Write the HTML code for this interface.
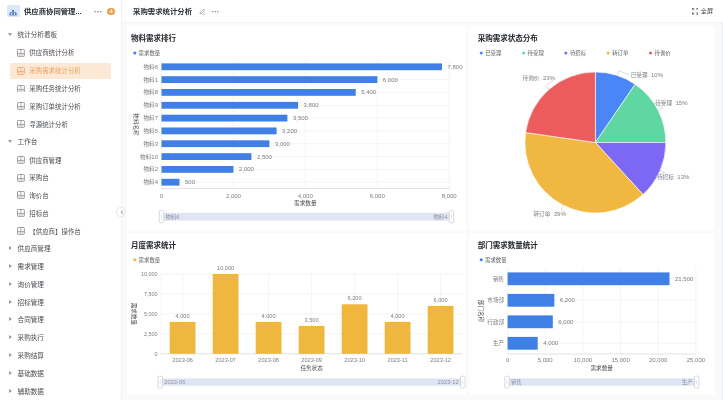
<!DOCTYPE html>
<html lang="zh-CN">
<head>
<meta charset="utf-8">
<title>采购需求统计分析</title>
<style>
*{box-sizing:border-box;margin:0;padding:0}
html,body{width:723px;height:400px;overflow:hidden;background:#fff;font-family:"Liberation Sans","Noto Sans CJK SC",sans-serif;color:#333}
#app{position:absolute;left:0;top:0;width:723px;height:400px;overflow:hidden;filter:blur(.55px)}
.sidebar{position:absolute;left:0;top:0;width:122px;height:400px;background:#fff;border-right:1px solid #f0f1f4}
.brand{position:absolute;left:0;top:0;width:121px;height:23px}
.brand .logo{position:absolute;left:7.1px;top:5.4px;width:12.7px;height:11.6px;border-radius:1.6px;background:#dde8fb}
.brand .name{position:absolute;left:24px;top:3.2px;line-height:17px;font-size:7.35px;font-weight:700;color:#2b2f36;white-space:nowrap}
.brand .more{position:absolute;left:93.8px;top:3.9px;line-height:17px;font-size:8.5px;font-weight:700;color:#777;letter-spacing:0}
.brand .add{position:absolute;left:107.2px;top:7.6px;width:7.6px;height:7.6px;border-radius:50%;background:#e9a04f}
.brand .add:before,.brand .add:after{content:"";position:absolute;background:#fbe4c8;left:1.9px;top:3.4px;width:3.8px;height:.8px}
.brand .add:after{left:3.4px;top:1.9px;width:.8px;height:3.8px}
.nav{position:absolute;height:18px;line-height:18px;font-size:6.45px;color:#4a4d52;white-space:nowrap}
.nav.grp{left:0;width:121px}
.nav.grp .gl{position:absolute;left:17.6px;font-size:6.6px}
.arr{position:absolute;width:0;height:0}
.arr.dn{left:8.2px;top:7.1px;border-left:2.3px solid transparent;border-right:2.3px solid transparent;border-top:3px solid #9a9da3}
.arr.rt{left:9px;top:6.2px;border-top:2.3px solid transparent;border-bottom:2.3px solid transparent;border-left:3px solid #9a9da3}
.nav.itm{left:10.3px;width:100.3px;height:16.3px;line-height:16.3px;margin-top:.8px;border-radius:1.5px}
.nav.itm .pi{position:absolute;left:7px;top:3.7px;width:7.9px;height:7.9px}
.nav.itm .il{position:absolute;left:19px;top:.4px}
.nav.itm.sel{background:#fce8d5;color:#e9a566}
.collapse{position:absolute;left:116.2px;top:207.3px;width:9.6px;height:9.6px;border-radius:50%;background:#fff;border:.6px solid #e3e4e8;z-index:5}
.collapse:before{content:"";position:absolute;left:3.6px;top:2.9px;width:2.4px;height:2.4px;border-left:.6px solid #aaa;border-bottom:.6px solid #aaa;transform:rotate(45deg)}
.main{position:absolute;left:122px;top:0;width:601px;height:400px;background:#f9fafc}
.main .sb{position:absolute;left:598.5px;top:22.5px;width:2.5px;height:378px;background:#f1f2f5}
.topbar{position:absolute;left:0;top:0;width:601px;height:22.5px;background:#fff;border-bottom:.6px solid #f3f4f6}
.topbar .ttl{position:absolute;left:11px;top:3.2px;line-height:17px;font-size:7.4px;font-weight:700;color:#2b2f36;white-space:nowrap}
.topbar .edit{position:absolute;left:76.8px;top:7.6px}
.topbar .more{position:absolute;left:89.8px;top:3.2px;line-height:17px;font-size:7.5px;font-weight:700;color:#777;letter-spacing:0}
.topbar .fs{position:absolute;left:569.6px;top:8px}
.topbar .fst{position:absolute;left:578.8px;top:2.3px;line-height:17px;font-size:6.1px;color:#3a3d42;white-space:nowrap}
.card{position:absolute;background:#fff;border-radius:1.5px}
.card h3{position:absolute;left:4.2px;top:6.5px;line-height:14px;font-size:7.5px;font-weight:700;color:#24272c;white-space:nowrap}
svg.charts{position:absolute;left:0;top:0;width:723px;height:400px;pointer-events:none}
svg.charts text{font-family:"Liberation Sans","Noto Sans CJK SC",sans-serif}
.t{font-size:5.6px;fill:#7b7e84}
.n{font-size:6px}
.pl{word-spacing:2px}
.c3 .n{font-size:5.6px}
.c3 .yt .n{font-size:5.4px}
.ts{font-size:5.4px;fill:#8f94a8}
.ts .n{font-size:5.8px}
.tt{font-size:5.6px;fill:#4a4d52}
.tl{font-size:5.4px;fill:#5f6267}
.grid{stroke:#ebedf0;stroke-width:.6}
.axis{stroke:#d4d6db;stroke-width:.7}
</style>
</head>
<body>
<div id="app">
<aside class="sidebar">
  <div class="brand">
    <span class="logo"><svg width="12.6" height="11.6" viewBox="0 1.2 12.6 11.6"><rect x="5.2" y="3.2" width="1.8" height="1.5" fill="#2f62b8"/><path d="M3.4 5.6H8.8M3.4 5.6V6.6M6.1 4.7V6.6M8.8 5.6V6.6" stroke="#2f62b8" stroke-width=".6" fill="none"/><rect x="2.5" y="6.5" width="1.8" height="1.5" fill="#2f62b8"/><rect x="5.2" y="6.5" width="1.8" height="1.5" fill="#2f62b8"/><rect x="7.9" y="6.5" width="1.8" height="1.5" fill="#2f62b8"/><path d="M2.4 8.7H9.8" stroke="#5f8fdd" stroke-width=".5"/></svg></span>
    <span class="name">供应商协同管理...</span>
    <span class="more">···</span>
    <span class="add"></span>
  </div>
  <nav>
<div class="nav grp" style="top:25.8px"><span class="arr dn"></span><span class="gl">统计分析看板</span></div>
<div class="nav itm" style="top:44.3px"><svg class="pi" width="7.6" height="7.6" viewBox="0 0 7.6 7.6"><rect x="0.5" y="0.5" width="6.6" height="6.6" rx="0.6" fill="none" stroke="#8c8c8c" stroke-width="0.8"/><path d="M0.5 4.3H7.1M3.8 0.5V4.3" stroke="#8c8c8c" stroke-width="0.7"/><rect x="1.5" y="5.1" width="4.6" height="1" fill="#8c8c8c" opacity=".55"/></svg><span class="il">供应商统计分析</span></div>
<div class="nav itm sel" style="top:62.2px"><svg class="pi" width="7.6" height="7.6" viewBox="0 0 7.6 7.6"><rect x="0.5" y="0.5" width="6.6" height="6.6" rx="0.6" fill="none" stroke="#e9a46a" stroke-width="0.8"/><path d="M0.5 4.3H7.1M3.8 0.5V4.3" stroke="#e9a46a" stroke-width="0.7"/><rect x="1.5" y="5.1" width="4.6" height="1" fill="#e9a46a" opacity=".55"/></svg><span class="il">采购需求统计分析</span></div>
<div class="nav itm" style="top:80.1px"><svg class="pi" width="7.6" height="7.6" viewBox="0 0 7.6 7.6"><rect x="0.5" y="0.5" width="6.6" height="6.6" rx="0.6" fill="none" stroke="#8c8c8c" stroke-width="0.8"/><path d="M0.5 4.3H7.1M3.8 0.5V4.3" stroke="#8c8c8c" stroke-width="0.7"/><rect x="1.5" y="5.1" width="4.6" height="1" fill="#8c8c8c" opacity=".55"/></svg><span class="il">采购任务统计分析</span></div>
<div class="nav itm" style="top:97.9px"><svg class="pi" width="7.6" height="7.6" viewBox="0 0 7.6 7.6"><rect x="0.5" y="0.5" width="6.6" height="6.6" rx="0.6" fill="none" stroke="#8c8c8c" stroke-width="0.8"/><path d="M0.5 4.3H7.1M3.8 0.5V4.3" stroke="#8c8c8c" stroke-width="0.7"/><rect x="1.5" y="5.1" width="4.6" height="1" fill="#8c8c8c" opacity=".55"/></svg><span class="il">采购订单统计分析</span></div>
<div class="nav itm" style="top:115.7px"><svg class="pi" width="7.6" height="7.6" viewBox="0 0 7.6 7.6"><rect x="0.5" y="0.5" width="6.6" height="6.6" rx="0.6" fill="none" stroke="#8c8c8c" stroke-width="0.8"/><path d="M0.5 4.3H7.1M3.8 0.5V4.3" stroke="#8c8c8c" stroke-width="0.7"/><rect x="1.5" y="5.1" width="4.6" height="1" fill="#8c8c8c" opacity=".55"/></svg><span class="il">寻源统计分析</span></div>
<div class="nav grp" style="top:132.7px"><span class="arr dn"></span><span class="gl">工作台</span></div>
<div class="nav itm" style="top:151.4px"><svg class="pi" width="7.6" height="7.6" viewBox="0 0 7.6 7.6"><rect x="0.5" y="0.5" width="6.6" height="6.6" rx="0.6" fill="none" stroke="#8c8c8c" stroke-width="0.8"/><path d="M0.5 4.3H7.1M3.8 0.5V4.3" stroke="#8c8c8c" stroke-width="0.7"/><rect x="1.5" y="5.1" width="4.6" height="1" fill="#8c8c8c" opacity=".55"/></svg><span class="il">供应商管理</span></div>
<div class="nav itm" style="top:169.2px"><svg class="pi" width="7.6" height="7.6" viewBox="0 0 7.6 7.6"><rect x="0.5" y="0.5" width="6.6" height="6.6" rx="0.6" fill="none" stroke="#8c8c8c" stroke-width="0.8"/><path d="M0.5 4.3H7.1M3.8 0.5V4.3" stroke="#8c8c8c" stroke-width="0.7"/><rect x="1.5" y="5.1" width="4.6" height="1" fill="#8c8c8c" opacity=".55"/></svg><span class="il">采购台</span></div>
<div class="nav itm" style="top:187.0px"><svg class="pi" width="7.6" height="7.6" viewBox="0 0 7.6 7.6"><rect x="0.5" y="0.5" width="6.6" height="6.6" rx="0.6" fill="none" stroke="#8c8c8c" stroke-width="0.8"/><path d="M0.5 4.3H7.1M3.8 0.5V4.3" stroke="#8c8c8c" stroke-width="0.7"/><rect x="1.5" y="5.1" width="4.6" height="1" fill="#8c8c8c" opacity=".55"/></svg><span class="il">询价台</span></div>
<div class="nav itm" style="top:204.8px"><svg class="pi" width="7.6" height="7.6" viewBox="0 0 7.6 7.6"><rect x="0.5" y="0.5" width="6.6" height="6.6" rx="0.6" fill="none" stroke="#8c8c8c" stroke-width="0.8"/><path d="M0.5 4.3H7.1M3.8 0.5V4.3" stroke="#8c8c8c" stroke-width="0.7"/><rect x="1.5" y="5.1" width="4.6" height="1" fill="#8c8c8c" opacity=".55"/></svg><span class="il">招标台</span></div>
<div class="nav itm" style="top:222.7px"><svg class="pi" width="7.6" height="7.6" viewBox="0 0 7.6 7.6"><rect x="0.5" y="0.5" width="6.6" height="6.6" rx="0.6" fill="none" stroke="#8c8c8c" stroke-width="0.8"/><path d="M0.5 4.3H7.1M3.8 0.5V4.3" stroke="#8c8c8c" stroke-width="0.7"/><rect x="1.5" y="5.1" width="4.6" height="1" fill="#8c8c8c" opacity=".55"/></svg><span class="il">【供应商】操作台</span></div>
<div class="nav grp" style="top:239.8px"><span class="arr rt"></span><span class="gl">供应商管理</span></div>
<div class="nav grp" style="top:257.7px"><span class="arr rt"></span><span class="gl">需求管理</span></div>
<div class="nav grp" style="top:275.6px"><span class="arr rt"></span><span class="gl">询价管理</span></div>
<div class="nav grp" style="top:293.5px"><span class="arr rt"></span><span class="gl">招标管理</span></div>
<div class="nav grp" style="top:311.3px"><span class="arr rt"></span><span class="gl">合同管理</span></div>
<div class="nav grp" style="top:329.1px"><span class="arr rt"></span><span class="gl">采购执行</span></div>
<div class="nav grp" style="top:346.9px"><span class="arr rt"></span><span class="gl">采购结算</span></div>
<div class="nav grp" style="top:364.8px"><span class="arr rt"></span><span class="gl">基础数据</span></div>
<div class="nav grp" style="top:382.7px"><span class="arr rt"></span><span class="gl">辅助数据</span></div>
  </nav>
</aside>
<div class="collapse"></div>
<main class="main">
  <div class="topbar">
    <span class="ttl">采购需求统计分析</span>
    <svg class="edit" width="7" height="7" viewBox="0 0 7 7"><path d="M1 5.9l.4-1.6L4.6 1.1l1.2 1.2L2.6 5.5z" fill="none" stroke="#777" stroke-width=".6"/><path d="M3.6 6.1H6.2" stroke="#777" stroke-width=".6"/></svg>
    <span class="more">···</span>
    <svg class="fs" width="6.5" height="6.5" viewBox="0 0 7.4 7.4"><path d="M.4 2.6V.4h2.2M4.8.4H7v2.2M7 4.8V7H4.8M2.6 7H.4V4.8" fill="none" stroke="#444" stroke-width=".8"/><path d="M.6.6l2 2M6.8.6l-2 2M6.8 6.8l-2-2M.6 6.8l2-2" stroke="#444" stroke-width=".6"/></svg>
    <span class="fst">全屏</span>
  </div>
  <div class="sb"></div>
  <section class="card" style="left:4.8px;top:25.8px;width:339.2px;height:203.8px"><h3>物料需求排行</h3></section>
  <section class="card" style="left:347.4px;top:25.8px;width:245.6px;height:203.8px"><h3 style="left:8.4px">采购需求状态分布</h3></section>
  <section class="card" style="left:4.8px;top:232.8px;width:339.2px;height:162px"><h3>月度需求统计</h3></section>
  <section class="card" style="left:347.4px;top:232.8px;width:245.6px;height:162px"><h3 style="left:8.4px">部门需求数量统计</h3></section>
</main>
<svg class="charts" viewBox="0 0 723 400">
  <g id="c1">
    <circle cx="134.8" cy="53.1" r="1.5" fill="#3f7fe6"/><text x="138.6" y="55" class="tl">需求数量</text>
<line x1="233.4" y1="60.4" x2="233.4" y2="188.6" class="grid"/>
<line x1="305.3" y1="60.4" x2="305.3" y2="188.6" class="grid"/>
<line x1="377.3" y1="60.4" x2="377.3" y2="188.6" class="grid"/>
<line x1="449.2" y1="60.4" x2="449.2" y2="188.6" class="grid"/>
<line x1="161.5" y1="66.8" x2="449.2" y2="66.8" class="grid"/>
<line x1="161.5" y1="79.6" x2="449.2" y2="79.6" class="grid"/>
<line x1="161.5" y1="92.4" x2="449.2" y2="92.4" class="grid"/>
<line x1="161.5" y1="105.3" x2="449.2" y2="105.3" class="grid"/>
<line x1="161.5" y1="118.1" x2="449.2" y2="118.1" class="grid"/>
<line x1="161.5" y1="130.9" x2="449.2" y2="130.9" class="grid"/>
<line x1="161.5" y1="143.7" x2="449.2" y2="143.7" class="grid"/>
<line x1="161.5" y1="156.6" x2="449.2" y2="156.6" class="grid"/>
<line x1="161.5" y1="169.4" x2="449.2" y2="169.4" class="grid"/>
<line x1="161.5" y1="182.2" x2="449.2" y2="182.2" class="grid"/>
<line x1="161.5" y1="60.4" x2="161.5" y2="188.6" class="grid"/>
<line x1="161.5" y1="188.6" x2="449.2" y2="188.6" class="axis"/>
<rect x="161.5" y="63.4" width="280.5" height="6.8" fill="#3f7fe6"/>
<text x="158.0" y="68.7" text-anchor="end" class="t">物料<tspan class="n">6</tspan></text>
<text x="447.5" y="68.7" class="t"><tspan class="n">7,800</tspan></text>
<rect x="161.5" y="76.2" width="215.8" height="6.8" fill="#3f7fe6"/>
<text x="158.0" y="81.5" text-anchor="end" class="t">物料<tspan class="n">1</tspan></text>
<text x="382.8" y="81.5" class="t"><tspan class="n">6,000</tspan></text>
<rect x="161.5" y="89.0" width="194.2" height="6.8" fill="#3f7fe6"/>
<text x="158.0" y="94.3" text-anchor="end" class="t">物料<tspan class="n">8</tspan></text>
<text x="361.2" y="94.3" class="t"><tspan class="n">5,400</tspan></text>
<rect x="161.5" y="101.9" width="136.6" height="6.8" fill="#3f7fe6"/>
<text x="158.0" y="107.2" text-anchor="end" class="t">物料<tspan class="n">9</tspan></text>
<text x="303.6" y="107.2" class="t"><tspan class="n">3,800</tspan></text>
<rect x="161.5" y="114.7" width="125.9" height="6.8" fill="#3f7fe6"/>
<text x="158.0" y="120.0" text-anchor="end" class="t">物料<tspan class="n">7</tspan></text>
<text x="292.9" y="120.0" class="t"><tspan class="n">3,500</tspan></text>
<rect x="161.5" y="127.5" width="115.1" height="6.8" fill="#3f7fe6"/>
<text x="158.0" y="132.8" text-anchor="end" class="t">物料<tspan class="n">5</tspan></text>
<text x="282.1" y="132.8" class="t"><tspan class="n">3,200</tspan></text>
<rect x="161.5" y="140.3" width="107.9" height="6.8" fill="#3f7fe6"/>
<text x="158.0" y="145.6" text-anchor="end" class="t">物料<tspan class="n">3</tspan></text>
<text x="274.9" y="145.6" class="t"><tspan class="n">3,000</tspan></text>
<rect x="161.5" y="153.2" width="89.9" height="6.8" fill="#3f7fe6"/>
<text x="158.0" y="158.5" text-anchor="end" class="t">物料<tspan class="n">10</tspan></text>
<text x="256.9" y="158.5" class="t"><tspan class="n">2,500</tspan></text>
<rect x="161.5" y="166.0" width="71.9" height="6.8" fill="#3f7fe6"/>
<text x="158.0" y="171.3" text-anchor="end" class="t">物料<tspan class="n">2</tspan></text>
<text x="238.9" y="171.3" class="t"><tspan class="n">2,000</tspan></text>
<rect x="161.5" y="178.8" width="18.0" height="6.8" fill="#3f7fe6"/>
<text x="158.0" y="184.1" text-anchor="end" class="t">物料<tspan class="n">4</tspan></text>
<text x="185.0" y="184.1" class="t"><tspan class="n">500</tspan></text>
<text x="161.5" y="197.6" text-anchor="middle" class="t"><tspan class="n">0</tspan></text>
<text x="233.4" y="197.6" text-anchor="middle" class="t"><tspan class="n">2,000</tspan></text>
<text x="305.3" y="197.6" text-anchor="middle" class="t"><tspan class="n">4,000</tspan></text>
<text x="377.3" y="197.6" text-anchor="middle" class="t"><tspan class="n">6,000</tspan></text>
<text x="449.2" y="197.6" text-anchor="middle" class="t"><tspan class="n">8,000</tspan></text>
<text x="305.3" y="204.9" text-anchor="middle" class="tt">需求数量</text>
<text transform="translate(134.1,124.5) rotate(90)" text-anchor="middle" class="tt">物料名称</text>
<rect x="161.5" y="212.8" width="290.0" height="7.8" fill="#dfe5f2"/><text x="165.5" y="218.6" class="ts">物料<tspan class="n">6</tspan></text><text x="447.5" y="218.6" text-anchor="end" class="ts">物料<tspan class="n">4</tspan></text><rect x="159.3" y="210.6" width="4.4" height="12.2" rx="1" fill="#fff" stroke="#c9ccd4" stroke-width="0.7"/><line x1="161.5" y1="215.1" x2="161.5" y2="218.3" stroke="#c9ccd4" stroke-width="0.6"/><rect x="449.3" y="210.6" width="4.4" height="12.2" rx="1" fill="#fff" stroke="#c9ccd4" stroke-width="0.7"/><line x1="451.5" y1="215.1" x2="451.5" y2="218.3" stroke="#c9ccd4" stroke-width="0.6"/>
  </g>
  <g id="c2">
<path d="M595.4,142.5 L595.40,72.00 A70.5,70.5 0 0 1 635.13,84.26 Z" fill="#4a86f5" stroke="#fff" stroke-width="0.6"/>
<path d="M595.4,142.5 L635.13,84.26 A70.5,70.5 0 0 1 665.90,142.50 Z" fill="#60d7a3" stroke="#fff" stroke-width="0.6"/>
<path d="M595.4,142.5 L665.90,142.50 A70.5,70.5 0 0 1 643.03,194.48 Z" fill="#7d68f3" stroke="#fff" stroke-width="0.6"/>
<path d="M595.4,142.5 L643.03,194.48 A70.5,70.5 0 0 1 525.60,132.57 Z" fill="#f0b840" stroke="#fff" stroke-width="0.6"/>
<path d="M595.4,142.5 L525.60,132.57 A70.5,70.5 0 0 1 595.40,72.00 Z" fill="#ec5c5c" stroke="#fff" stroke-width="0.6"/>
<polyline points="617.2,75.5 618.7,70.7 629.2,74.8" fill="none" stroke="#b5b8be" stroke-width="0.5"/>
<text x="630.7" y="76.7" text-anchor="start" class="t pl">已受理 <tspan class="n">10%</tspan></text>
<polyline points="658.2,110.5 662.7,108.2 653.7,102.9" fill="none" stroke="#b5b8be" stroke-width="0.5"/>
<text x="655.2" y="104.8" text-anchor="start" class="t pl">待受理 <tspan class="n">15%</tspan></text>
<polyline points="660.1,170.5 664.7,172.5 655.5,176.6" fill="none" stroke="#b5b8be" stroke-width="0.5"/>
<text x="657.0" y="178.5" text-anchor="start" class="t pl">待招标 <tspan class="n">13%</tspan></text>
<polyline points="563.4,205.3 561.1,209.8 567.3,214.2" fill="none" stroke="#b5b8be" stroke-width="0.5"/>
<text x="565.8" y="216.1" text-anchor="end" class="t pl">转订单 <tspan class="n">39%</tspan></text>
<polyline points="548.8,89.6 545.5,85.9 556.4,77.7" fill="none" stroke="#b5b8be" stroke-width="0.5"/>
<text x="554.9" y="79.6" text-anchor="end" class="t pl">待询价 <tspan class="n">23%</tspan></text>
<circle cx="481.2" cy="53" r="1.5" fill="#4a86f5"/>
<text x="485.2" y="55" class="tl">已受理</text>
<circle cx="523.6" cy="53" r="1.5" fill="#60d7a3"/>
<text x="527.6" y="55" class="tl">待受理</text>
<circle cx="565.9" cy="53" r="1.5" fill="#7d68f3"/>
<text x="569.9" y="55" class="tl">待招标</text>
<circle cx="608.2" cy="53" r="1.5" fill="#f0b840"/>
<text x="612.2" y="55" class="tl">转订单</text>
<circle cx="650.5" cy="53" r="1.5" fill="#ec5c5c"/>
<text x="654.5" y="55" class="tl">待询价</text>
  </g>
  <g id="c3" class="c3">
    <circle cx="134.8" cy="259.7" r="1.5" fill="#efb73e"/><text x="138.6" y="261.6" class="tl">需求数量</text>
<line x1="161.1" y1="333.9" x2="462.1" y2="333.9" class="grid"/>
<line x1="161.1" y1="313.9" x2="462.1" y2="313.9" class="grid"/>
<line x1="161.1" y1="294.0" x2="462.1" y2="294.0" class="grid"/>
<line x1="161.1" y1="274.0" x2="462.1" y2="274.0" class="grid"/>
<line x1="182.6" y1="274.0" x2="182.6" y2="353.8" class="grid"/>
<line x1="225.6" y1="274.0" x2="225.6" y2="353.8" class="grid"/>
<line x1="268.6" y1="274.0" x2="268.6" y2="353.8" class="grid"/>
<line x1="311.6" y1="274.0" x2="311.6" y2="353.8" class="grid"/>
<line x1="354.6" y1="274.0" x2="354.6" y2="353.8" class="grid"/>
<line x1="397.6" y1="274.0" x2="397.6" y2="353.8" class="grid"/>
<line x1="440.6" y1="274.0" x2="440.6" y2="353.8" class="grid"/>
<line x1="161.1" y1="274.0" x2="161.1" y2="353.8" class="grid"/>
<line x1="161.1" y1="353.8" x2="462.1" y2="353.8" class="axis"/>
<text x="157.6" y="355.7" text-anchor="end" class="t yt"><tspan class="n">0</tspan></text>
<text x="157.6" y="335.8" text-anchor="end" class="t yt"><tspan class="n">2,500</tspan></text>
<text x="157.6" y="315.8" text-anchor="end" class="t yt"><tspan class="n">5,000</tspan></text>
<text x="157.6" y="295.9" text-anchor="end" class="t yt"><tspan class="n">7,500</tspan></text>
<text x="157.6" y="275.9" text-anchor="end" class="t yt"><tspan class="n">10,000</tspan></text>
<rect x="169.7" y="321.9" width="25.8" height="31.9" fill="#efb73e"/>
<text x="182.6" y="317.7" text-anchor="middle" class="t"><tspan class="n">4,000</tspan></text>
<text x="182.6" y="362.4" text-anchor="middle" class="t"><tspan class="n">2023-06</tspan></text>
<rect x="212.7" y="274.0" width="25.8" height="79.8" fill="#efb73e"/>
<text x="225.6" y="269.8" text-anchor="middle" class="t"><tspan class="n">10,000</tspan></text>
<text x="225.6" y="362.4" text-anchor="middle" class="t"><tspan class="n">2023-07</tspan></text>
<rect x="255.7" y="321.9" width="25.8" height="31.9" fill="#efb73e"/>
<text x="268.6" y="317.7" text-anchor="middle" class="t"><tspan class="n">4,000</tspan></text>
<text x="268.6" y="362.4" text-anchor="middle" class="t"><tspan class="n">2023-08</tspan></text>
<rect x="298.7" y="325.9" width="25.8" height="27.9" fill="#efb73e"/>
<text x="311.6" y="321.7" text-anchor="middle" class="t"><tspan class="n">3,500</tspan></text>
<text x="311.6" y="362.4" text-anchor="middle" class="t"><tspan class="n">2023-09</tspan></text>
<rect x="341.7" y="304.3" width="25.8" height="49.5" fill="#efb73e"/>
<text x="354.6" y="300.1" text-anchor="middle" class="t"><tspan class="n">6,200</tspan></text>
<text x="354.6" y="362.4" text-anchor="middle" class="t"><tspan class="n">2023-10</tspan></text>
<rect x="384.7" y="321.9" width="25.8" height="31.9" fill="#efb73e"/>
<text x="397.6" y="317.7" text-anchor="middle" class="t"><tspan class="n">4,000</tspan></text>
<text x="397.6" y="362.4" text-anchor="middle" class="t"><tspan class="n">2023-11</tspan></text>
<rect x="427.7" y="305.9" width="25.8" height="47.9" fill="#efb73e"/>
<text x="440.6" y="301.7" text-anchor="middle" class="t"><tspan class="n">6,000</tspan></text>
<text x="440.6" y="362.4" text-anchor="middle" class="t"><tspan class="n">2023-12</tspan></text>
<text x="311.6" y="370.1" text-anchor="middle" class="tt">任务状态</text>
<text transform="translate(132,313.9) rotate(90)" text-anchor="middle" class="tt">需求数量</text>
<rect x="160.2" y="378.4" width="302.6" height="7.4" fill="#dfe5f2"/><text x="164.2" y="384.0" class="ts"><tspan class="n">2023-06</tspan></text><text x="458.8" y="384.0" text-anchor="end" class="ts"><tspan class="n">2023-12</tspan></text><rect x="158.0" y="376.2" width="4.4" height="11.8" rx="1" fill="#fff" stroke="#c9ccd4" stroke-width="0.7"/><line x1="160.2" y1="380.5" x2="160.2" y2="383.7" stroke="#c9ccd4" stroke-width="0.6"/><rect x="460.6" y="376.2" width="4.4" height="11.8" rx="1" fill="#fff" stroke="#c9ccd4" stroke-width="0.7"/><line x1="462.8" y1="380.5" x2="462.8" y2="383.7" stroke="#c9ccd4" stroke-width="0.6"/>
  </g>
  <g id="c4">
    <circle cx="481.2" cy="259.7" r="1.5" fill="#3f7fe6"/><text x="485" y="261.6" class="tl">需求数量</text>
<line x1="545.2" y1="268.0" x2="545.2" y2="354.0" class="grid"/>
<line x1="582.9" y1="268.0" x2="582.9" y2="354.0" class="grid"/>
<line x1="620.6" y1="268.0" x2="620.6" y2="354.0" class="grid"/>
<line x1="658.2" y1="268.0" x2="658.2" y2="354.0" class="grid"/>
<line x1="695.9" y1="268.0" x2="695.9" y2="354.0" class="grid"/>
<line x1="507.6" y1="278.8" x2="695.9" y2="278.8" class="grid"/>
<line x1="507.6" y1="300.2" x2="695.9" y2="300.2" class="grid"/>
<line x1="507.6" y1="321.8" x2="695.9" y2="321.8" class="grid"/>
<line x1="507.6" y1="343.2" x2="695.9" y2="343.2" class="grid"/>
<line x1="507.6" y1="268.0" x2="507.6" y2="354.0" class="grid"/>
<line x1="507.6" y1="354.0" x2="695.9" y2="354.0" class="axis"/>
<rect x="507.6" y="272.4" width="161.9" height="12.8" fill="#3f7fe6"/>
<text x="504.1" y="280.6" text-anchor="end" class="t">销售</text>
<text x="675.0" y="280.6" class="t"><tspan class="n">21,500</tspan></text>
<rect x="507.6" y="293.9" width="46.7" height="12.8" fill="#3f7fe6"/>
<text x="504.1" y="302.1" text-anchor="end" class="t">市场部</text>
<text x="559.8" y="302.1" class="t"><tspan class="n">6,200</tspan></text>
<rect x="507.6" y="315.4" width="45.2" height="12.8" fill="#3f7fe6"/>
<text x="504.1" y="323.6" text-anchor="end" class="t">行政部</text>
<text x="558.3" y="323.6" class="t"><tspan class="n">6,000</tspan></text>
<rect x="507.6" y="336.9" width="30.1" height="12.8" fill="#3f7fe6"/>
<text x="504.1" y="345.1" text-anchor="end" class="t">生产</text>
<text x="543.2" y="345.1" class="t"><tspan class="n">4,000</tspan></text>
<text x="507.6" y="362.4" text-anchor="middle" class="t"><tspan class="n">0</tspan></text>
<text x="545.2" y="362.4" text-anchor="middle" class="t"><tspan class="n">5,000</tspan></text>
<text x="582.9" y="362.4" text-anchor="middle" class="t"><tspan class="n">10,000</tspan></text>
<text x="620.6" y="362.4" text-anchor="middle" class="t"><tspan class="n">15,000</tspan></text>
<text x="658.2" y="362.4" text-anchor="middle" class="t"><tspan class="n">20,000</tspan></text>
<text x="695.9" y="362.4" text-anchor="middle" class="t"><tspan class="n">25,000</tspan></text>
<text x="601.7" y="370.0" text-anchor="middle" class="tt">需求数量</text>
<text transform="translate(479.1,311.0) rotate(90)" text-anchor="middle" class="tt">部门名称</text>
<rect x="507.0" y="378.4" width="189.6" height="7.4" fill="#dfe5f2"/><text x="511.0" y="384.0" class="ts">销售</text><text x="692.6" y="384.0" text-anchor="end" class="ts">生产</text><rect x="504.8" y="376.2" width="4.4" height="11.8" rx="1" fill="#fff" stroke="#c9ccd4" stroke-width="0.7"/><line x1="507.0" y1="380.5" x2="507.0" y2="383.7" stroke="#c9ccd4" stroke-width="0.6"/><rect x="694.4" y="376.2" width="4.4" height="11.8" rx="1" fill="#fff" stroke="#c9ccd4" stroke-width="0.7"/><line x1="696.6" y1="380.5" x2="696.6" y2="383.7" stroke="#c9ccd4" stroke-width="0.6"/>
  </g>
</svg>
</div>
</body>
</html>
